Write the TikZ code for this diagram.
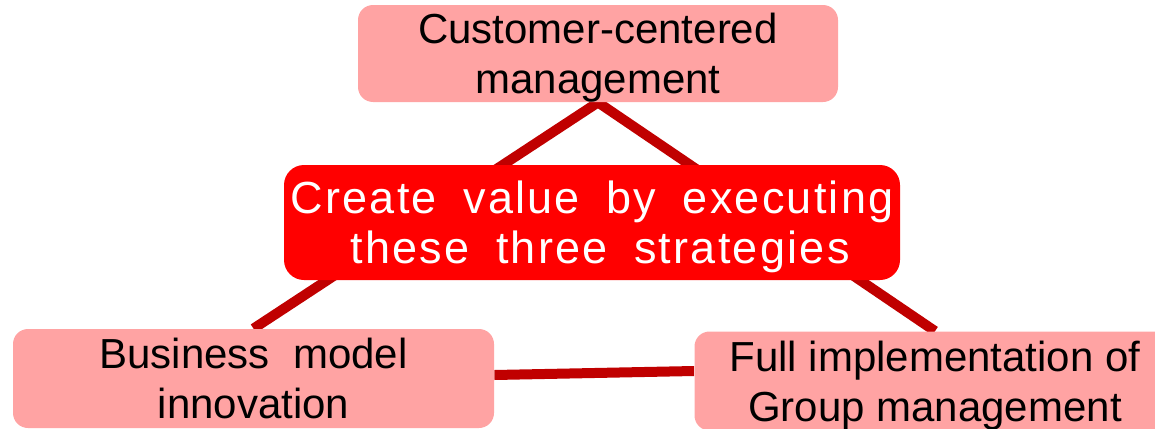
\documentclass[tikz,border=0pt]{standalone}
\usepackage{fontspec}
\setmainfont{Liberation Sans}
\newfontfamily\spacedfont[LetterSpace=5, WordSpace=1.8]{Liberation Sans}
\usetikzlibrary{backgrounds}
\definecolor{boxpink}{RGB}{255,163,163}
\definecolor{linkred}{RGB}{192,0,0}

\begin{document}
\begin{tikzpicture}[x=0.5pt, y=-0.5pt,
    strategy/.style={fill=boxpink, rounded corners=7.5pt, inner sep=0pt,
      minimum width=240.5pt, minimum height=49.5pt, align=center,
      font=\fontsize{21}{25}\selectfont, text depth=0pt},
    hub/.style={fill=red, text=white, rounded corners=10pt, inner sep=0pt,
      minimum width=308pt, minimum height=57.5pt, align=center,
      font=\spacedfont\fontsize{22.5}{25}\selectfont, text depth=0pt},
    link/.style={draw=linkred, line width=5pt}]

  \useasboundingbox (0,0) rectangle (1155,428);

  \node[strategy, minimum width=240pt, minimum height=48.5pt] (cust) at (598,53.5) {Customer-centered\\management};
  \node[strategy] (biz) at (253.5,378.5) {Business~ model\\innovation};
  \node[strategy] (group) at (935,381) {Full implementation of\\Group management};
  \node[hub] (value) at (592,222.5) {Create value by executing\\\hspace*{8pt}these three strategies};

  \begin{scope}[on background layer]
    \draw[link] (biz.north) -- (cust.south) -- (group.north);
    \draw[link] ([yshift=1.75pt]biz.east) -- ([yshift=5pt]group.west);
  \end{scope}

\end{tikzpicture}
\end{document}
